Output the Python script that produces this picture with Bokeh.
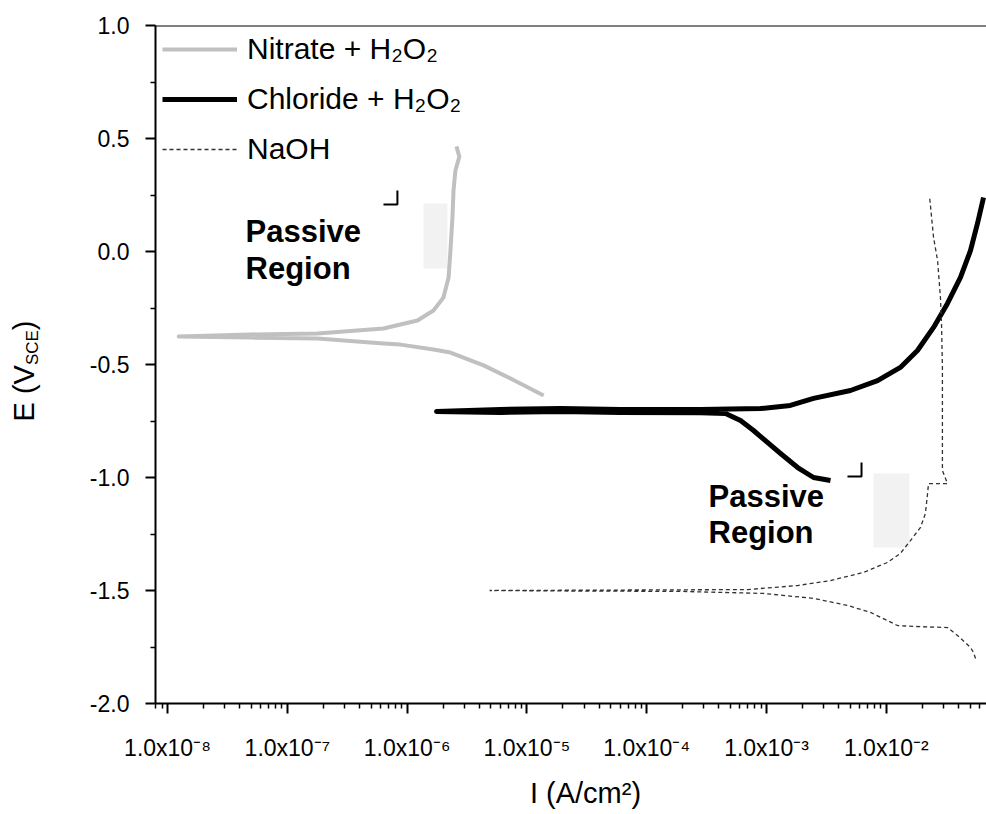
import math
from bokeh.plotting import figure
from bokeh.layouts import row, column
from bokeh.models import (Range1d, FixedTicker, CustomJSTickFormatter, PrintfTickFormatter,
                          Legend, LegendItem, Label, Span, BoxAnnotation)
from bokeh.embed import file_html
from bokeh.resources import INLINE

# ---------------- data ----------------
# Nitrate + H2O2 : cathodic end -> corrosion potential -> anodic top
nitrate_i = [1.38e-5, 7.3e-6, 4.35e-6, 2.3e-6, 1.66e-6, 8.8e-7, 6.35e-7, 1.79e-7, 4.93e-8, 1.24e-8,
             4.93e-8, 1.79e-7, 6.35e-7, 1.22e-6, 1.66e-6, 2.01e-6, 2.22e-6, 2.30e-6, 2.39e-6,
             2.44e-6, 2.53e-6, 2.73e-6, 2.58e-6]
nitrate_e = [-0.637, -0.562, -0.504, -0.447, -0.434, -0.412, -0.407, -0.385, -0.381, -0.376,
             -0.367, -0.363, -0.341, -0.305, -0.261, -0.204, -0.115, 0.004, 0.150,
             0.270, 0.358, 0.420, 0.465]

# Chloride + H2O2
chloride_i = [3.42e-3, 2.47e-3, 1.82e-3, 1.31e-3, 7.79e-4, 6.07e-4, 4.55e-4, 2.81e-4, 6.04e-5, 1.91e-5,
              6.0e-6, 1.76e-6,
              6.0e-6, 1.91e-5, 6.04e-5, 2.81e-4, 8.9e-4, 1.58e-3, 2.47e-3, 5.02e-3, 8.45e-3, 1.31e-2,
              1.82e-2, 2.48e-2, 3.24e-2, 4.16e-2, 5.04e-2, 5.77e-2, 6.48e-2]
chloride_e = [-1.013, -1.000, -0.956, -0.894, -0.792, -0.748, -0.717, -0.713, -0.712, -0.708,
              -0.712, -0.708,
              -0.699, -0.695, -0.699, -0.699, -0.695, -0.681, -0.650, -0.615, -0.571, -0.513,
              -0.438, -0.336, -0.230, -0.115, 0.004, 0.124, 0.239]

# NaOH
naoh_i = [5.56e-2, 5.34e-2, 5.04e-2, 3.93e-2, 3.24e-2, 1.69e-2, 1.24e-2, 1.02e-2, 7.38e-3, 4.74e-3,
          2.47e-3, 9.44e-4, 1.91e-4, 6.0e-5, 1.9e-5, 4.88e-6,
          1.9e-5, 6.0e-5, 1.91e-4, 6.94e-4, 1.82e-3, 3.42e-3, 6.45e-3, 1.02e-2, 1.31e-2, 1.59e-2,
          1.93e-2, 2.12e-2, 2.21e-2, 2.25e-2, 3.24e-2, 2.94e-2, 2.94e-2, 2.94e-2, 2.94e-2, 2.89e-2,
          2.83e-2, 2.68e-2, 2.48e-2, 2.30e-2]
naoh_e = [-1.801, -1.774, -1.752, -1.699, -1.664, -1.659, -1.655, -1.633, -1.597, -1.566,
          -1.535, -1.513, -1.504, -1.503, -1.502, -1.500,
          -1.499, -1.498, -1.497, -1.496, -1.478, -1.456, -1.420, -1.376, -1.336, -1.279,
          -1.221, -1.159, -1.071, -1.027, -1.027, -0.969, -0.792, -0.650, -0.513, -0.319,
          -0.204, -0.040, 0.062, 0.239]

series_names = ["Nitrate + H\u2082O\u2082", "Chloride + H\u2082O\u2082", "NaOH"]

x_major = [1e-8, 1e-7, 1e-6, 1e-5, 1e-4, 1e-3, 1e-2]
x_minor = [k * 10.0 ** d for d in range(-9, -1) for k in range(2, 10)]
y_major = [-2.0, -1.5, -1.0, -0.5, 0.0, 0.5, 1.0]
y_minor = [-1.75, -1.25, -0.75, -0.25, 0.25, 0.75]

# annotation geometry (data units)
box1 = dict(left=1.37e-6, right=2.17e-6, top=0.212, bottom=-0.075)
box2 = dict(left=7.82e-3, right=1.56e-2, top=-0.982, bottom=-1.310)
corner1_x = [6.35e-7, 8.3e-7, 8.3e-7]
corner1_y = [0.208, 0.208, 0.270]
corner2_x = [4.74e-3, 6.21e-3, 6.21e-3]
corner2_y = [-0.996, -0.996, -0.934]
passive1 = (4.48e-8, 0.088, -0.075)
passive2 = (3.28e-4, -1.084, -1.243)

FONT = "Liberation Sans"
W, H = 986, 814
YLAB_W = 60          # strip holding the y-axis title
XLAB_H = 44          # strip holding the x-axis title
MAIN_H = H - XLAB_H

p = figure(width=W - YLAB_W, height=MAIN_H, x_axis_type="log",
           x_range=Range1d(7.94e-9, 0.0686), y_range=Range1d(-2.0, 1.0),
           output_backend="svg", toolbar_location=None,
           min_border_left=155 - YLAB_W, min_border_right=0, min_border_top=25,
           min_border_bottom=MAIN_H - 703)
p.outline_line_color = None
p.xgrid.visible = False
p.ygrid.visible = False
p.background_fill_color = "white"
p.border_fill_color = "white"

# passive region shading
p.add_layout(BoxAnnotation(**box1, fill_color="#F2F2F2", fill_alpha=1.0, line_color=None, level="underlay"))
p.add_layout(BoxAnnotation(**box2, fill_color="#F2F2F2", fill_alpha=1.0, line_color=None, level="underlay"))

r_nit = p.line(nitrate_i, nitrate_e, line_color="#C0C0C0", line_width=4, line_join="round")
r_chl = p.line(chloride_i, chloride_e, line_color="black", line_width=5, line_join="round")
r_naoh = p.line(naoh_i, naoh_e, line_color="#333333", line_width=1.3, line_dash="4 3")

p.line(corner1_x, corner1_y, line_color="black", line_width=2)
p.line(corner2_x, corner2_y, line_color="black", line_width=2)

for (lx, ly1, ly2) in (passive1, passive2):
    for txt, ly in (("Passive", ly1), ("Region", ly2)):
        p.add_layout(Label(x=lx, y=ly, text=txt, text_font=FONT, text_font_style="bold",
                           text_font_size="31px", text_align="left", text_baseline="alphabetic",
                           text_color="black"))

# top frame line
p.add_layout(Span(location=1.0, dimension="width", line_color="black", line_width=2))

# axes
for ax in (p.xaxis[0], p.yaxis[0]):
    ax.axis_line_width = 2
    ax.axis_line_color = "black"
    ax.major_tick_line_width = 2
    ax.minor_tick_line_width = 1.5
    ax.major_tick_out = 10
    ax.major_tick_in = 0
    ax.minor_tick_out = 5
    ax.minor_tick_in = 0
    ax.major_label_text_font = FONT
    ax.major_label_text_font_size = "23px"
    ax.major_label_text_color = "black"
    ax.major_label_standoff = 16
p.xaxis.major_label_standoff = 21

p.xaxis.ticker = FixedTicker(ticks=x_major, minor_ticks=x_minor)
p.xaxis.formatter = CustomJSTickFormatter(code="""
const e = Math.round(Math.log10(tick));
const m = {'-':'\\u207B','0':'\\u2070','1':'\\u00B9','2':'\\u00B2','3':'\\u00B3','4':'\\u2074',
           '5':'\\u2075','6':'\\u2076','7':'\\u2077','8':'\\u2078','9':'\\u2079'};
return '1.0x10' + String(e).split('').map(c => m[c]).join('');
""")
p.yaxis.ticker = FixedTicker(ticks=y_major, minor_ticks=y_minor)
p.yaxis.formatter = PrintfTickFormatter(format="%.1f")

legend = Legend(items=[LegendItem(label=series_names[0], renderers=[r_nit]),
                       LegendItem(label=series_names[1], renderers=[r_chl]),
                       LegendItem(label=series_names[2], renderers=[r_naoh])],
                location="top_left", margin=7, padding=0, spacing=16,
                glyph_width=75, glyph_height=32, label_height=32, label_standoff=10,
                label_text_font=FONT, label_text_font_size="30px", label_text_color="black",
                background_fill_alpha=0, border_line_color=None)
p.add_layout(legend)


def strip(width, height):
    f = figure(width=width, height=height, x_range=(0, 1), y_range=(0, 1),
               x_axis_location=None, y_axis_location=None, toolbar_location=None,
               output_backend="svg", min_border=0)
    f.outline_line_color = None
    f.xgrid.visible = False
    f.ygrid.visible = False
    f.background_fill_color = "white"
    f.border_fill_color = "white"
    return f


# y-axis title "E (V_SCE)" with a real subscript
BIG, SUB = 29, 17
EM = {"E": 0.667, " ": 0.278, "(": 0.333, "V": 0.667, "S": 0.667, "C": 0.722, ")": 0.333}
def width(s, size):
    return sum(EM[c] for c in s) * size

# the strip's frame is aligned with the main frame (canvas y 25..703)
ylab = strip(YLAB_W, MAIN_H)
cur = 703 - 421
for txt, size, shift in (("E (V", BIG, 0), ("SCE", SUB, 9), (")", BIG, 0)):
    ylab.add_layout(Label(x=23 + shift, y=cur, x_units="screen", y_units="screen", text=txt,
                          angle=math.pi / 2, text_font=FONT, text_font_size=f"{size}px",
                          text_align="left", text_baseline="alphabetic", text_color="black"))
    cur += width(txt, size)

# x-axis title
xlab = strip(W, XLAB_H)
xlab.add_layout(Label(x=585, y=22, x_units="screen", y_units="screen",
                      text="I (A/cm\u00B2)", text_font=FONT, text_font_size=f"{BIG}px",
                      text_align="center", text_baseline="alphabetic", text_color="black"))

layout = column(row(ylab, p, spacing=0), xlab, spacing=0)

open("out.html", "w").write(file_html(layout, INLINE))
